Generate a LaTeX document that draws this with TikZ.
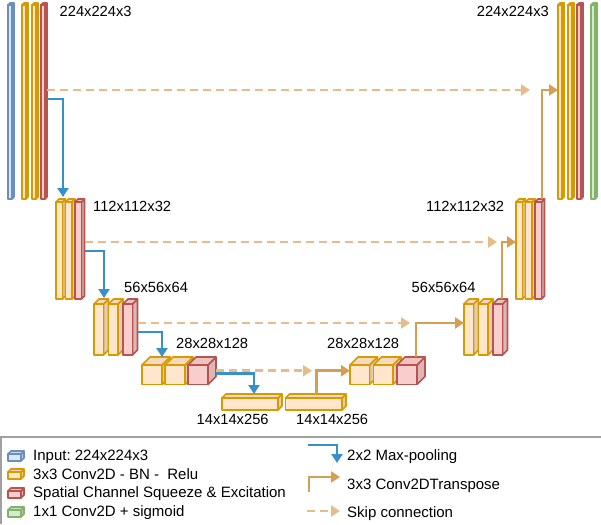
\documentclass[tikz,border=0pt]{standalone}
\usepackage{fontspec}
\setmainfont{Liberation Sans}
\usetikzlibrary{arrows.meta,calc}

% face colours: F = front, T = top, S = side, L = outline
\definecolor{oF}{HTML}{FFE6CC}\definecolor{oT}{HTML}{F3D9BF}\definecolor{oS}{HTML}{E4CCB3}\definecolor{oL}{HTML}{D79B00}
\definecolor{rF}{HTML}{F8CECC}\definecolor{rT}{HTML}{ECC3C1}\definecolor{rS}{HTML}{DDB7B5}\definecolor{rL}{HTML}{B85450}
\definecolor{bF}{HTML}{DAE8FC}\definecolor{bT}{HTML}{CEDBEE}\definecolor{bS}{HTML}{BFCCDD}\definecolor{bL}{HTML}{6C8EBF}
\definecolor{gF}{HTML}{D5E8D4}\definecolor{gT}{HTML}{C9DCC8}\definecolor{gS}{HTML}{BACCB9}\definecolor{gL}{HTML}{82B366}
\definecolor{poolc}{HTML}{3590CC}
\definecolor{upcc}{HTML}{D69E52}
\definecolor{skipc}{HTML}{E6BD88}
\definecolor{framec}{HTML}{A0A0A0}

\tikzset{
  pool/.style={draw=poolc, line width=2.8pt, -{Triangle[length=9pt,width=11pt]}},
  upconv/.style={draw=upcc, line width=2.8pt, -{Triangle[length=9pt,width=11pt]}},
  skipline/.style={draw=skipc, line width=2.8pt, dash pattern=on 8pt off 5pt, -{Triangle[length=9pt,width=11pt]}},
  lbl/.style={inner sep=0, font=\fontsize{14.7}{16}\selectfont},
  key/.style={inner sep=0, anchor=base west, font=\fontsize{15}{17}\selectfont},
  facestyle/.style={line width=1.6pt, line join=round},
}

% \blockcube{name}{colour prefix}{x}{y}{width}{height}{depth}
% (x,y) is the top-left corner of the front face; the node is the front face
\newcommand\blockcube[7]{%
  \filldraw[facestyle, draw=#2L, fill=#2S] (#3+#5,#4) -- ++(#7,-#7) -- ++(0,#6) -- ++(-#7,#7) -- cycle;
  \filldraw[facestyle, draw=#2L, fill=#2T] (#3,#4) -- ++(#7,-#7) -- ++(#5,0) -- ++(-#7,#7) -- cycle;
  \node[facestyle, draw=#2L, fill=#2F, anchor=north west, minimum width=#5pt, minimum height=#6pt,
        inner sep=0, outer sep=0] (#1) at (#3,#4) {};%
}

\begin{document}
\frenchspacing
\begin{tikzpicture}[x=1pt, y=-1pt]
\useasboundingbox (0,0) rectangle (601,524);

% ---------------- encoder ----------------
\blockcube{l1in}{b}{8}{5}{4}{194}{2}
\blockcube{l1a}{o}{22}{5}{4}{194}{2}
\blockcube{l1b}{o}{32}{5}{4}{194}{2}
\blockcube{l1c}{r}{41}{5}{4}{194}{2}

\blockcube{l2a}{o}{56}{202}{6.5}{97}{3}
\blockcube{l2b}{o}{65.5}{202}{6.5}{97}{3}
\blockcube{l2c}{r}{75}{202}{6.5}{97}{3}

\blockcube{l3a}{o}{94}{304}{9.5}{51}{5}
\blockcube{l3b}{o}{108.5}{304}{9.5}{51}{5}
\blockcube{l3c}{r}{123}{304}{9.5}{51}{5}

\blockcube{l4a}{o}{142}{365}{20}{19.5}{8}
\blockcube{l4b}{o}{165}{365}{20}{19.5}{8}
\blockcube{l4c}{r}{188}{365}{20}{19.5}{8}

% ---------------- bottleneck ----------------
\blockcube{l5}{o}{222}{398}{56}{12}{4}
\blockcube{r5}{o}{285.5}{398}{56.5}{12}{4}

% ---------------- decoder ----------------
\blockcube{r4a}{o}{350}{365}{19.5}{19.5}{8}
\blockcube{r4b}{o}{373.5}{365}{19.5}{19.5}{8}
\blockcube{r4c}{r}{397}{365}{20}{19.5}{8}

\blockcube{r3a}{o}{464}{304}{9.5}{51}{5}
\blockcube{r3b}{o}{478.5}{304}{9.5}{51}{5}
\blockcube{r3c}{r}{493}{304}{9.5}{51}{5}

\blockcube{r2a}{o}{516}{202}{6.5}{97}{3}
\blockcube{r2b}{o}{525.5}{202}{6.5}{97}{3}
\blockcube{r2c}{r}{535}{202}{6.5}{97}{3}

\blockcube{r1a}{o}{558}{5}{4}{194}{2}
\blockcube{r1b}{o}{568}{5}{4}{194}{2}
\blockcube{r1c}{r}{577}{5}{4}{194}{2}
\blockcube{r1out}{g}{591}{5}{4}{194}{2}

% ---------------- size labels ----------------
\node[lbl, anchor=base west] (t1l) at (59.5,17) {224x224x3};
\node[lbl, anchor=base east] (t1r) at (549,17) {224x224x3};
\node[lbl, anchor=base west] (t2l) at (93,211.7) {112x112x32};
\node[lbl, anchor=base west] (t2r) at (426,211.7) {112x112x32};
\node[lbl, anchor=base west] (t3l) at (124,292) {56x56x64};
\node[lbl, anchor=base west] (t3r) at (411.5,292) {56x56x64};
\node[lbl, anchor=base west] (t4l) at (176,348) {28x28x128};
\node[lbl, anchor=base west] (t4r) at (327,348) {28x28x128};
\node[lbl, anchor=base west] (t5l) at (196.5,424) {14x14x256};
\node[lbl, anchor=base west] (t5r) at (296,424) {14x14x256};

% ---------------- skip connections ----------------
\draw[skipline] ($(l1c.east)+(2,-12)$) -- ($(r1a.west)+(-28,-12)$);
\draw[skipline] ($(l2c.east)+(3,-8.5)$) -- ($(r2a.west)+(-19,-8.5)$);
\draw[skipline] ($(l3c.east)+(5,-6.5)$) -- ($(r3a.west)+(-54,-6.5)$);
\draw[skipline] ($(l4c.east)+(8,-4)$) -- ($(r4a.west)+(-38,-4)$);

% ---------------- max-pooling ----------------
\draw[pool] ($(l1c.east)+(2,-3)$) -| ($(l2a.north east)+(0.5,-5)$);
\draw[pool] ($(l2c.east)+(3,0.5)$) -| ($(l3a.north east)+(0.5,-6)$);
\draw[pool] ($(l3c.east)+(5,2.5)$) -| ($(l4a.north east)+(0,-8)$);
\draw[pool] ($(l4c.east)+(8,-1)$) -| ($(l5.north)+(4,-4)$);

% ---------------- transposed convolutions ----------------
\draw[upconv] ($(r5.north)+(3,-4)$) |- ($(r4a.west)+(0,-4)$);
\draw[upconv] ($(r4c.north east)+(-1,-8)$) |- ($(r3a.west)+(0,-6.5)$);
\draw[upconv] ($(r3c.north east)+(-0.5,-5)$) |- ($(r2a.west)+(0,-8.5)$);
\draw[upconv] ($(r2c.north east)+(0.5,-3)$) |- ($(r1a.west)+(0,-12)$);

% ---------------- legend ----------------
\draw[framec, line width=1.5pt] (0,437) -- (601,437);
\draw[framec, line width=1.5pt] (0.75,437) -- (0.75,524);

\blockcube{kin}{b}{8}{454}{13}{7}{3}
\blockcube{kconv}{o}{8}{472}{13}{7}{3}
\blockcube{kscse}{r}{8}{491}{13}{7}{3}
\blockcube{kout}{g}{8}{510}{13}{7}{3}
\node[key] (kinT) at (33,460.3) {Input: 224x224x3};
\node[key] (kconvT) at (33,479) {3x3 Conv2D - BN -\ \ Relu};
\node[key] (kscseT) at (33,497.7) {Spatial Channel Squeeze \& Excitation};
\node[key] (koutT) at (33,516.7) {1x1 Conv2D + sigmoid};

\coordinate (kp0) at (308,445);
\coordinate (kp1) at (337,463);
\coordinate (ku0) at (309,492);
\coordinate (ku1) at (340,477);
\coordinate (ks0) at (307,511);
\coordinate (ks1) at (340,511);
\draw[pool] (kp0) -| (kp1);
\draw[upconv] (ku0) |- (ku1);
\draw[skipline] (ks0) -- (ks1);
\node[key] (kpoolT) at (347,460.7) {2x2 Max-pooling};
\node[key] (kupT) at (347,489) {3x3 Conv2DTranspose};
\node[key] (kskipT) at (347,517) {Skip connection};
\end{tikzpicture}
\end{document}
